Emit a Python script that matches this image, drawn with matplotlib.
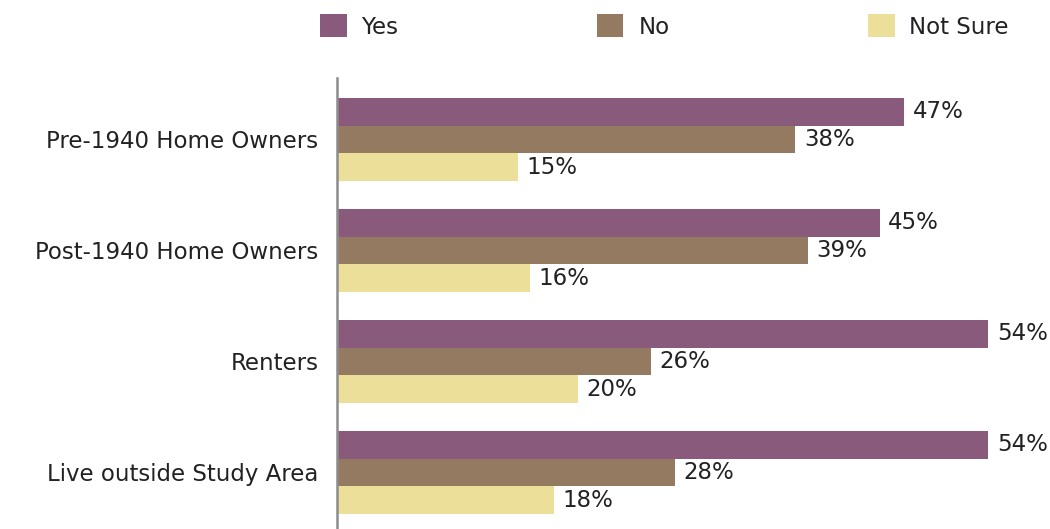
import matplotlib.pyplot as plt
from matplotlib.patches import Patch
import numpy as np

# Survey responses by respondent group (percent)
groups = ['Pre-1940 Home Owners', 'Post-1940 Home Owners', 'Renters', 'Live outside Study Area']
answers = ['Yes', 'No', 'Not Sure']
yes = [47, 45, 54, 54]
no = [38, 39, 26, 28]
not_sure = [15, 16, 20, 18]
colors = ['#8a5a7d', '#957a62', '#ecdf9a']

plt.rcParams['font.family'] = 'DejaVu Sans'
text_color = '#222222'
fs = 16.5

fig = plt.figure(figsize=(10.5, 5.29), dpi=100)
ax = fig.add_axes([0.321, 0.0, 0.679, 0.8526])

y = np.arange(len(groups))
h = 0.248
for i, (vals, c) in enumerate(zip([yes, no, not_sure], colors)):
    pos = y + (i - 1) * h
    ax.barh(pos, vals, height=h, color=c, edgecolor='none')
    for p, v in zip(pos, vals):
        ax.text(v + 0.7, p, f'{v}%', va='center', ha='left',
                fontsize=fs, color=text_color)

ax.set_xlim(0, 59.1)
ax.set_ylim(3.509, -0.554)
ax.set_yticks(y)
ax.set_yticklabels(groups, fontsize=fs, color=text_color)
ax.tick_params(axis='y', length=0, pad=13.5)
ax.set_xticks([])
for s in ['top', 'right', 'bottom']:
    ax.spines[s].set_visible(False)
ax.spines['left'].set_color('#8c8c8c')
ax.spines['left'].set_linewidth(1.8)

handles = [Patch(facecolor=c, edgecolor='none', label=a) for a, c in zip(answers, colors)]
fig.legend(handles=handles, ncol=3, loc='center left', bbox_to_anchor=(0.2936, 0.95),
           frameon=False, fontsize=fs, handlelength=1.17, handleheight=1.15,
           handletextpad=0.65, columnspacing=8.65, borderpad=0, labelcolor=text_color)

fig.savefig('out.png', dpi=100)
